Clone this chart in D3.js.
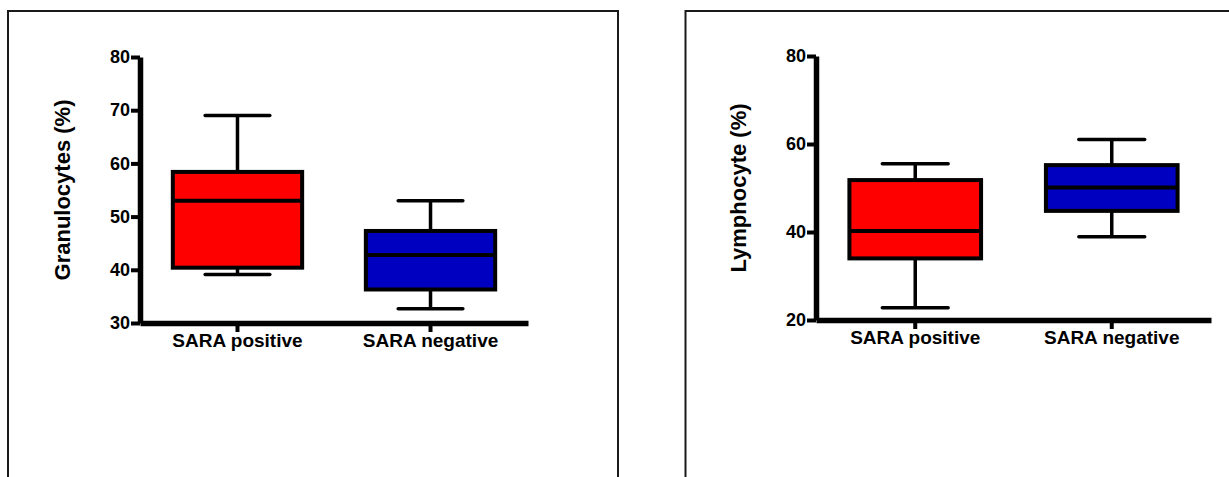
<!DOCTYPE html>
<html>
<head>
<meta charset="utf-8">
<script src="https://cdn.jsdelivr.net/npm/d3@7"></script>
<style>
  body { margin: 0; background: #fff; }
  svg { display: block; font-family: Arial, "Liberation Sans", sans-serif; }
</style>
</head>
<body>
<svg width="1229" height="477"></svg>
<script>
// groups on the x axis
const groups = ['SARA positive', 'SARA negative'];
const colors = ['#ff0000', '#0000c0'];

// box stats: [whiskerLow, q1, median, q3, whiskerHigh]
const granulocytes = [
  [39.1, 40.4, 53.0, 58.4, 69.0],
  [32.7, 36.3, 42.8, 47.3, 53.0]
];
const lymphocytes = [
  [22.8, 34.0, 40.2, 51.8, 55.5],
  [38.9, 44.8, 50.1, 55.2, 61.0]
];

const granTicks = [30, 40, 50, 60, 70, 80];
const lymphTicks = [20, 40, 60, 80];

const svg = d3.select('svg');

// panel frames
svg.append('rect')
  .attr('x', 8).attr('y', 11).attr('width', 610).attr('height', 500)
  .attr('fill', 'none').attr('stroke', '#1a1a1a').attr('stroke-width', 2);
svg.append('rect')
  .attr('x', 685.5).attr('y', 11).attr('width', 600).attr('height', 500)
  .attr('fill', 'none').attr('stroke', '#1a1a1a').attr('stroke-width', 2);

function drawPanel(opts) {
  const g = svg.append('g');
  const x = d3.scaleBand()
    .domain(groups)
    .range([opts.left, opts.right])
    .paddingInner(0.33)
    .paddingOuter(0.17)
    .align(0.5);
  const y = d3.scaleLinear()
    .domain(opts.domain)
    .range([opts.bottom, opts.top]);

  // y axis
  const ya = g.append('g')
    .attr('transform', `translate(${opts.left},0)`)
    .call(d3.axisLeft(y).tickValues(opts.ticks).tickSize(9).tickSizeOuter(0).tickPadding(1));
  // x axis
  const xa = g.append('g')
    .attr('transform', `translate(0,${opts.bottom})`)
    .call(d3.axisBottom(x).tickSize(9).tickSizeOuter(0).tickPadding(2));

  [ya, xa].forEach(a => {
    a.select('.domain').attr('stroke', '#000').attr('stroke-width', 5.5);
    a.selectAll('.tick line').attr('stroke', '#000').attr('stroke-width', 4);
    a.selectAll('.tick text')
      .attr('fill', '#000')
      .attr('font-family', 'Arial, "Liberation Sans", sans-serif')
      .attr('font-weight', 'bold');
  });
  ya.selectAll('.tick text').attr('font-size', 18);
  xa.selectAll('.tick text').attr('font-size', 19);

  // y label
  g.append('text')
    .attr('transform', `translate(${opts.labelX},${(opts.top + opts.bottom) / 2}) rotate(-90)`)
    .attr('text-anchor', 'middle')
    .attr('dominant-baseline', 'central')
    .attr('font-size', 22)
    .attr('font-weight', 'bold')
    .text(opts.label);

  const bw = x.bandwidth();
  const boxes = g.selectAll('.box')
    .data(opts.data)
    .enter()
    .append('g')
    .attr('class', 'box');

  boxes.each(function (d, i) {
    const b = d3.select(this);
    const cx = x(groups[i]) + bw / 2;
    // whiskers
    b.append('line')
      .attr('x1', cx).attr('x2', cx)
      .attr('y1', y(d[0])).attr('y2', y(d[1]))
      .attr('stroke', '#000').attr('stroke-width', 3.5);
    b.append('line')
      .attr('x1', cx).attr('x2', cx)
      .attr('y1', y(d[3])).attr('y2', y(d[4]))
      .attr('stroke', '#000').attr('stroke-width', 3.5);
    [d[0], d[4]].forEach(v => {
      b.append('line')
        .attr('x1', cx - bw / 4).attr('x2', cx + bw / 4)
        .attr('y1', y(v)).attr('y2', y(v))
        .attr('stroke', '#000').attr('stroke-width', 3.5)
        .attr('stroke-linecap', 'round');
    });
    // box
    b.append('rect')
      .attr('x', x(groups[i]))
      .attr('y', y(d[3]))
      .attr('width', bw)
      .attr('height', y(d[1]) - y(d[3]))
      .attr('fill', colors[i])
      .attr('stroke', '#000')
      .attr('stroke-width', 4);
    // median
    b.append('line')
      .attr('x1', x(groups[i])).attr('x2', x(groups[i]) + bw)
      .attr('y1', y(d[2])).attr('y2', y(d[2]))
      .attr('stroke', '#000').attr('stroke-width', 4);
  });
}

drawPanel({
  data: granulocytes, domain: [30, 80], ticks: granTicks,
  left: 140, right: 528, top: 57, bottom: 323,
  labelX: 62, label: 'Granulocytes (%)'
});
drawPanel({
  data: lymphocytes, domain: [20, 80], ticks: lymphTicks,
  left: 816, right: 1211, top: 56, bottom: 320,
  labelX: 738, label: 'Lymphocyte (%)'
});
</script>
</body>
</html>
